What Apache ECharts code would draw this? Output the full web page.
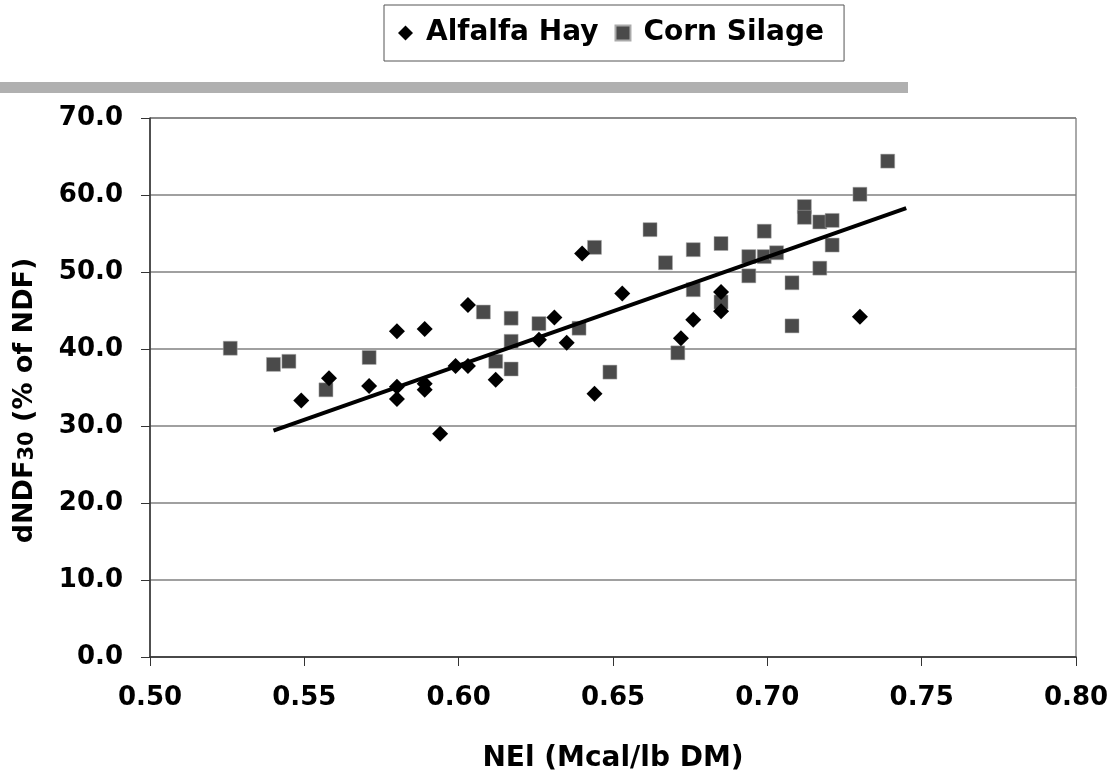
<!DOCTYPE html>
<html>
<head>
<meta charset="utf-8">
<script src="https://cdn.jsdelivr.net/npm/echarts@6/dist/echarts.min.js"></script>
<style>
  html, body { margin: 0; padding: 0; background: #fff; }
  #chart { width: 1111px; height: 776px; }
</style>
</head>
<body>
<div id="chart"></div>
<script>
// Alfalfa Hay points [NEl, dNDF30]
var alfalfaHay = [
  [0.549, 33.3], [0.558, 36.2], [0.571, 35.2], [0.580, 42.3], [0.580, 35.1],
  [0.580, 33.5], [0.589, 42.6], [0.589, 35.5], [0.589, 34.7], [0.594, 29.0],
  [0.599, 37.8], [0.603, 45.7], [0.603, 37.8], [0.612, 36.0], [0.626, 41.2],
  [0.631, 44.1], [0.635, 40.8], [0.640, 52.4], [0.644, 34.2], [0.653, 47.2],
  [0.672, 41.4], [0.676, 43.8], [0.685, 47.4], [0.685, 44.9], [0.730, 44.2]
];
// Corn Silage points
var cornSilage = [
  [0.526, 40.1], [0.540, 38.0], [0.545, 38.4], [0.557, 34.7], [0.571, 38.9],
  [0.608, 44.8], [0.617, 44.0], [0.617, 41.0], [0.612, 38.4], [0.617, 37.4],
  [0.626, 43.3], [0.639, 42.7], [0.644, 53.2], [0.649, 37.0], [0.662, 55.5],
  [0.667, 51.2], [0.676, 52.9], [0.676, 47.7], [0.671, 39.5], [0.685, 53.7],
  [0.685, 46.1], [0.694, 52.0], [0.694, 49.5], [0.699, 55.3], [0.699, 52.0],
  [0.703, 52.5], [0.708, 48.6], [0.708, 43.0], [0.712, 58.5], [0.712, 57.1],
  [0.717, 56.5], [0.721, 56.7], [0.721, 53.5], [0.717, 50.5], [0.730, 60.1],
  [0.739, 64.4]
];
// linear trend line end points
var trendLine = [[0.540, 29.4], [0.745, 58.3]];

var xTicks = { min: 0.50, max: 0.80, step: 0.05 };
var yTicks = { min: 0, max: 70, step: 10 };

var myChart = echarts.init(document.getElementById('chart'));
var font = '"DejaVu Sans", "Liberation Sans", sans-serif';
var option = {
  animation: false,
  textStyle: { fontFamily: font },
  graphic: [
    { type: 'rect', left: 0, top: 82, shape: { width: 908, height: 11 }, style: { fill: '#b0b0b0' }, silent: true }
  ],
  legend: {
    data: [
      { name: 'Alfalfa Hay', icon: 'diamond' },
      { name: 'Corn Silage', icon: 'rect' }
    ],
    left: 384,
    top: 5,
    padding: [14, 20, 14, 14],
    itemGap: 16,
    itemWidth: 15,
    itemHeight: 15,
    borderColor: '#555',
    borderWidth: 1,
    borderRadius: 0,
    textStyle: { fontSize: 28, fontWeight: 'bold', color: '#000', fontFamily: font, padding: [0, 0, 0, 8] }
  },
  grid: { left: 150, right: 35, top: 118, bottom: 119, show: true, borderColor: '#555', borderWidth: 1,
    outerBoundsMode: 'none' },
  xAxis: {
    type: 'value',
    min: xTicks.min,
    max: xTicks.max,
    interval: xTicks.step,
    name: 'NEl (Mcal/lb DM)',
    nameLocation: 'middle',
    nameGap: 88,
    nameTextStyle: { fontSize: 28, fontWeight: 'bold', color: '#000' },
    axisLine: { lineStyle: { color: '#333', width: 1.5 } },
    axisTick: { inside: false, length: 9, lineStyle: { color: '#333' } },
    axisLabel: { fontSize: 26, fontWeight: 'bold', color: '#000', margin: 28,
      formatter: function (v) { return v.toFixed(2); } },
    splitLine: { show: false }
  },
  yAxis: {
    type: 'value',
    min: yTicks.min,
    max: yTicks.max,
    interval: yTicks.step,
    name: '{a|dNDF}{b|30}{a| (% of NDF)}',
    nameLocation: 'middle',
    nameGap: 112,
    nameRotate: 90,
    nameTextStyle: {
      padding: [0, 26, 0, 0],
      rich: {
        a: { fontSize: 27, fontWeight: 'bold', color: '#000', fontFamily: font },
        b: { fontSize: 21, fontWeight: 'bold', color: '#000', fontFamily: font, padding: [6, 0, 0, 0] }
      }
    },
    axisLine: { show: true, lineStyle: { color: '#333', width: 1.5 } },
    axisTick: { show: true, length: 9, lineStyle: { color: '#333' } },
    axisLabel: { fontSize: 26, fontWeight: 'bold', color: '#000', margin: 27,
      formatter: function (v) { return v.toFixed(1); } },
    splitLine: { lineStyle: { color: '#808080', width: 1.5 } }
  },
  series: [
    {
      name: 'Alfalfa Hay',
      type: 'scatter',
      symbol: 'diamond',
      symbolSize: 16,
      itemStyle: { color: '#000', opacity: 1 },
      data: alfalfaHay,
      z: 3
    },
    {
      name: 'Corn Silage',
      type: 'scatter',
      symbol: 'rect',
      symbolSize: 14,
      itemStyle: { color: '#4a4a4a', borderColor: '#aaa', borderWidth: 0.5, opacity: 1 },
      data: cornSilage,
      z: 2
    },
    {
      name: 'trend',
      type: 'line',
      data: trendLine,
      symbol: 'none',
      lineStyle: { color: '#000', width: 4 },
      z: 4,
      silent: true
    }
  ]
};
myChart.setOption(option);
</script>
</body>
</html>
